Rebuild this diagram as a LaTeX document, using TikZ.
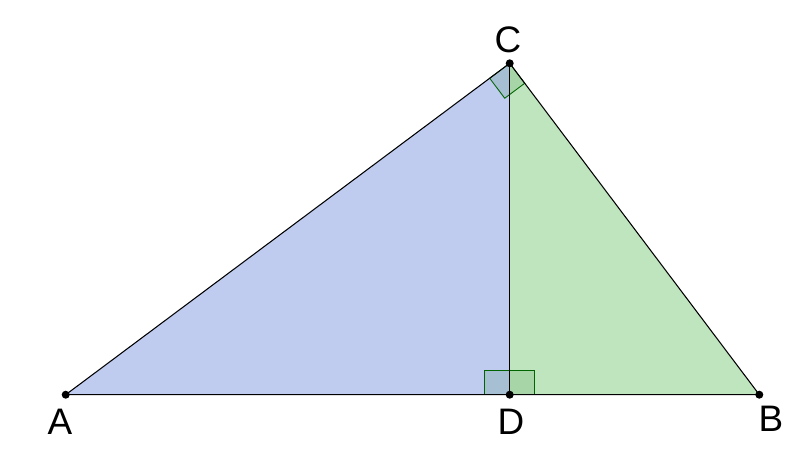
\documentclass[tikz,border=0pt]{standalone}
\usepackage{fontspec}
\setmainfont{Liberation Sans}
\usetikzlibrary{calc}

\definecolor{triblue}{RGB}{191,204,240}
\definecolor{trigreen}{RGB}{191,229,191}
\definecolor{markgreen}{RGB}{0,100,0}

\begin{document}
\begin{tikzpicture} [x=0.02cm, y=-0.02cm, font=\fontsize{21}{24}\selectfont,
  pt/.style={circle, fill=black, inner sep=0pt, minimum size=0.16cm},
  anglemark/.style={draw=markgreen, line width=0.5pt, fill=markgreen, fill opacity=0.12}]
\useasboundingbox (0, 0) rectangle (800, 454);

\path (65.7, 394.7) coordinate (A)
      (759.3, 394.7) coordinate (B)
      (509.7, 63.3) coordinate (C)
      (509.7, 394.7) coordinate (D);

% the two triangles
\fill[triblue] (A) -- (D) -- (C) -- cycle;
\fill[trigreen] (D) -- (B) -- (C) -- cycle;

% right angles
\path ($(C)!0.5cm!(A)$) coordinate (Ca)
      ($(C)!0.5cm!(B)$) coordinate (Cb)
      ($(Ca)+(Cb)-(C)$) coordinate (Cm);
\draw[anglemark] (C) -- (Ca) -- (Cm) -- (Cb) -- cycle;
\draw[anglemark] ($(D)+(-25.5, 0)$) rectangle ($(D)+(0, -24.5)$);
\draw[anglemark] (D) rectangle ($(D)+(25, -24.5)$);

% sides and height
\draw[line width=0.6pt] (A) -- (B) -- (C) -- cycle;
\draw[line width=0.6pt] (C) -- (D);

\path (A) node[pt] (pA) {}
      (B) node[pt] (pB) {}
      (C) node[pt] (pC) {}
      (D) node[pt] (pD) {};

\path (60, 422) node (lA) {A}
      (771, 419) node (lB) {B}
      (508, 40) node (lC) {C}
      (511, 422) node (lD) {D};

\end{tikzpicture}
\end{document}
